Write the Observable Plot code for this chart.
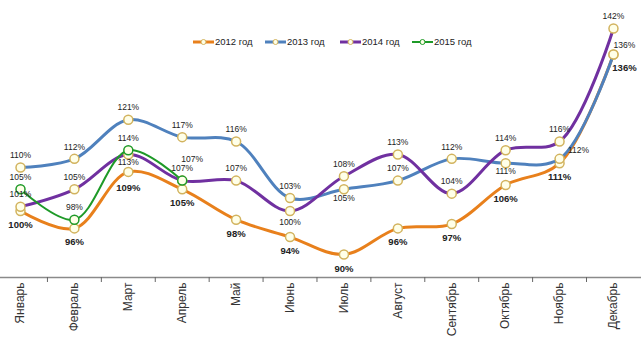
<!DOCTYPE html>
<html>
<head>
<meta charset="utf-8">
<script src="https://cdn.jsdelivr.net/npm/d3@7"></script>
<script src="https://cdn.jsdelivr.net/npm/@observablehq/plot@0.6"></script>
<style>
  html, body { margin: 0; padding: 0; background: #fff; }
  #wrap { position: relative; width: 641px; height: 342px; font-family: "Liberation Sans", Arial, sans-serif; }
  #legend { position: absolute; top: 36px; left: 0; width: 641px; height: 14px; }
  .item { position: absolute; display: flex; align-items: center; font-size: 9.5px; color: #222; }
  .item svg { margin-right: 1px; }
</style>
</head>
<body>
<div id="wrap">
  <div id="chart"></div>
  <div id="legend"></div>
</div>
<script>
const months = ["Январь","Февраль","Март","Апрель","Май","Июнь","Июль","Август","Сентябрь","Октябрь","Ноябрь","Декабрь"];
const seriesNames = ["2012 год","2013 год","2014 год","2015 год"];
const y2012 = [100, 96, 109, 105, 98, 94, 90, 96, 97, 106, 111, 136];
const y2013 = [110, 112, 121, 117, 116, 103, 105, 107, 112, 111, 112, 136];
const y2014 = [101, 105, 113, 107, 107, 100, 108, 113, 104, 114, 116, 142];
const y2015 = [105, 98, 114, 107];

const colors = ["#E8801C", "#4F81BD", "#7030A0", "#1E9A28"];
const markerStroke = "#D2B35E";
const markerFill = "#FFFFE8";

const seriesValues = [y2012, y2013, y2014, y2015];
const rows = [];
seriesValues.forEach((vals, s) => vals.forEach((v, i) => rows.push({series: seriesNames[s], s, i, v})));

// label placement (layout): default above, 2012 below; exceptions
const defaultOffset = s => s === 0 ? [0, 14] : [0, -12];
const overrides = {
  "0|2": [0, 16], "0|11": [11, 13],
  "1|6": [0, 9], "1|9": [0, 8], "1|10": [19, -9], "1|11": [11, -9],
  "2|2": [0, 8], "2|5": [0, 11],
  "3|3": [10, -21]
};

const marks = [];
seriesNames.forEach((name, s) => {
  const data = rows.filter(d => d.s === s);
  marks.push(Plot.line(data, {x: "i", y: "v", stroke: colors[s], strokeWidth: s === 3 ? 2 : 3, curve: "catmull-rom"}));
  marks.push(Plot.dot(data, {x: "i", y: "v", r: 4.5, fill: markerFill, stroke: s === 3 ? colors[3] : markerStroke, strokeWidth: 1.5}));
});

// group labels by offset
const groups = new Map();
rows.forEach(d => {
  const off = overrides[`${d.s}|${d.i}`] || defaultOffset(d.s);
  const key = off.join(",") + "|" + (d.s === 0 ? "b" : "n");
  if (!groups.has(key)) groups.set(key, {off, bold: d.s === 0, data: []});
  groups.get(key).data.push(d);
});
for (const g of groups.values()) {
  marks.push(Plot.text(g.data, {
    x: "i", y: "v", text: d => d.v + "%",
    dx: g.off[0], dy: g.off[1],
    fontSize: g.bold ? 9.5 : 8.5,
    fontWeight: g.bold ? "bold" : "normal",
    fill: "#222"
  }));
}

const chart = Plot.plot({
  width: 641,
  height: 342,
  marginLeft: 0,
  marginRight: 0,
  marginTop: 28,
  marginBottom: 65,
  style: {fontFamily: "'Liberation Sans', Arial, sans-serif", background: "white"},
  x: {domain: [-0.371, 11.52], axis: null, label: null},
  y: {domain: [84.7, 142], axis: null, label: null},
  marks: [
    ...marks,
    Plot.frame({anchor: "bottom", stroke: "#8a8a8a", strokeWidth: 1.5}),
    Plot.axisX(d3.range(0.5, 11, 1), {anchor: "bottom", tickSize: 5, tickFormat: () => "", stroke: "#666", label: null}),
    Plot.axisX(d3.range(12), {anchor: "bottom", tickSize: 0, tickPadding: 5, tickRotate: -90, tickFormat: i => months[i], fontSize: 12, fill: "#333", label: null})
  ]
});
document.getElementById("chart").appendChild(chart);

// legend
const legendLeft = [193, 265, 340, 412];
const legend = document.getElementById("legend");
seriesNames.forEach((name, s) => {
  const item = document.createElement("div");
  item.className = "item";
  item.style.left = legendLeft[s] + "px";
  const sw = s === 3 ? 2 : 3;
  item.innerHTML = `<svg width="21" height="10"><line x1="0" x2="21" y1="5" y2="5" stroke="${colors[s]}" stroke-width="${sw}"/><circle cx="10.5" cy="5" r="2.5" fill="${markerFill}" stroke="${s === 3 ? colors[3] : markerStroke}" stroke-width="1"/></svg><span>${name}</span>`;
  legend.appendChild(item);
});
</script>
</body>
</html>
